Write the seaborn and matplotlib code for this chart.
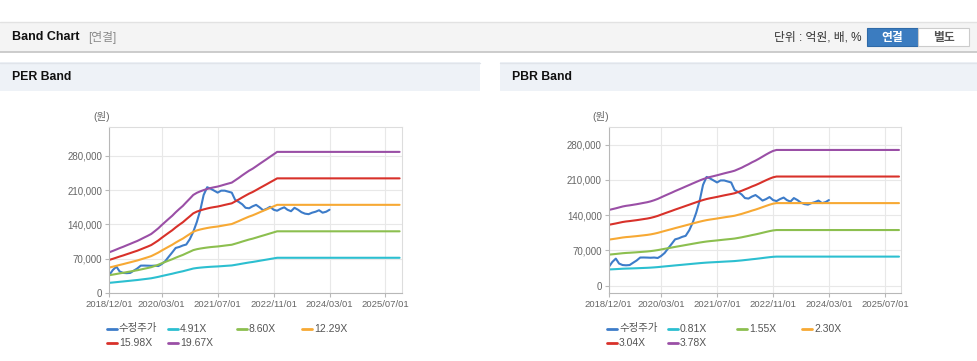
"""
PER / PBR band chart (monthly values read off the reference picture)
"""

import pandas as pd
import matplotlib.pyplot as plt
import matplotlib.ticker as mticker
import matplotlib.dates as mdates
from matplotlib.patches import Rectangle
from matplotlib.lines import Line2D
import seaborn as sns

# --- data -----------------------------------------------------------------
start_month = "2018-12-01"

# adjusted close (수정주가), monthly 2018/12 .. 2024/03
price = [36800, 47000, 53800, 44000, 41000, 40500, 41000, 45500, 50000, 55900,
         56000, 55800, 55500, 55900, 55000, 59000, 65000, 74000, 83000, 92000,
         94000, 97000, 99000, 110000, 125000, 145000, 170000, 200000, 216000, 213000,
         209000, 205000, 209000, 209000, 207000, 205000, 190000, 186000, 181000, 174000,
         173000, 177000, 180000, 175000, 169000, 172000, 176000, 170000, 168000, 172000,
         175000, 170000, 167000, 174000, 170000, 165000, 162000, 161000, 164000, 166000,
         169000, 164000, 166000, 170000]

# EPS behind the PER bands, monthly 2018/12 .. 2025/11
eps = [4230, 4370, 4520, 4660, 4800, 4950, 5100, 5250, 5400, 5580, 5760, 5940,
       6130, 6420, 6720, 7050, 7380, 7700, 8020, 8380, 8720, 9040, 9420, 9800,
       10180, 10400, 10560, 10680, 10800, 10900, 10980, 11050, 11150, 11260, 11360, 11460,
       11700, 11950, 12220, 12450, 12700, 12900, 13150, 13400, 13650, 13900, 14150, 14400,
       14650, 14650, 14650, 14650, 14650, 14650, 14650, 14650, 14650, 14650, 14650, 14650,
       14650, 14650, 14650, 14650, 14650, 14650, 14650, 14650, 14650, 14650, 14650, 14650,
       14650, 14650, 14650, 14650, 14650, 14650, 14650, 14650, 14650, 14650, 14650, 14650]

# BPS behind the PBR bands, monthly 2018/12 .. 2025/11
bps = [39760, 40200, 40650, 41100, 41600, 41950, 42200, 42500, 42800, 43150, 43500, 43850,
       44300, 44900, 45600, 46400, 47250, 48050, 48860, 49700, 50500, 51300, 52100, 52900,
       53700, 54500, 55300, 55950, 56600, 57100, 57550, 58000, 58500, 59000, 59450, 59900,
       60400, 61200, 62000, 62880, 63800, 64800, 65700, 66700, 67800, 68900, 69900, 70800,
       71300, 71300, 71300, 71300, 71300, 71300, 71300, 71300, 71300, 71300, 71300, 71300,
       71300, 71300, 71300, 71300, 71300, 71300, 71300, 71300, 71300, 71300, 71300, 71300,
       71300, 71300, 71300, 71300, 71300, 71300, 71300, 71300, 71300, 71300, 71300, 71300]

per_multiples = [4.91, 8.60, 12.29, 15.98, 19.67]
pbr_multiples = [0.81, 1.55, 2.30, 3.04, 3.78]
price_label = "수정주가"

x_ticks = ["2018/12/01", "2020/03/01", "2021/07/01", "2022/11/01", "2024/03/01", "2025/07/01"]
y_ticks = [0, 70000, 140000, 210000, 280000]

colors = ["#3d7cc9", "#2cbfd0", "#8cbf4f", "#f7a934", "#d8312a", "#9a4fa6"]

# --- frames ---------------------------------------------------------------
band_dates = pd.date_range(start_month, periods=len(eps), freq="MS")
price_df = pd.DataFrame({"date": band_dates[:len(price)], "value": price})


def band_frame(base, multiples):
    rows = []
    for m in multiples:
        label = f"{m:.2f}X"
        for d, b in zip(band_dates, base):
            rows.append({"date": d, "value": b * m, "band": label})
    return pd.DataFrame(rows)


per_df = band_frame(eps, per_multiples)
pbr_df = band_frame(bps, pbr_multiples)

# --- figure ---------------------------------------------------------------
sns.set_theme(style="white")
plt.rcParams["font.family"] = ["Liberation Sans", "Noto Sans CJK KR", "DejaVu Sans"]

W, H = 978, 361
fig = plt.figure(figsize=(W / 100, H / 100), dpi=100)
fig.patch.set_facecolor("white")


def px(x, y):
    return x / W, 1 - y / H


def rect(x0, y0, x1, y1, **kw):
    fig.add_artist(Rectangle(px(x0, y1), (x1 - x0) / W, (y1 - y0) / H,
                             transform=fig.transFigure, **kw))


def hline(x0, x1, y, color, lw=1.0):
    fig.add_artist(Line2D([x0 / W, x1 / W], [1 - y / H] * 2, color=color, lw=lw,
                          transform=fig.transFigure))


# top header bar
rect(0, 22, W, 52, facecolor="#f4f4f4", edgecolor="none")
hline(0, W, 22, "#e2e2e2")
hline(0, W, 52, "#c4c4c4", lw=1.2)
fig.text(*px(12, 37.5), "Band Chart", fontsize=9, fontweight="bold", color="#111111", va="center")
fig.text(*px(88, 37.5), "[연결]", fontsize=8.5, color="#8a8a8a", va="center")
fig.text(*px(862, 37.5), "단위 : 억원, 배, %", fontsize=8.5, color="#333333", va="center", ha="right")
rect(867, 28, 918, 46, facecolor="#3b7cc0", edgecolor="#2f6aa8", lw=0.8)
fig.text(*px(892.5, 37.5), "연결", fontsize=8.5, fontweight="bold", color="white", va="center", ha="center")
rect(918, 28, 969, 46, facecolor="white", edgecolor="#cccccc", lw=0.8)
fig.text(*px(943.5, 37.5), "별도", fontsize=8.5, fontweight="bold", color="#555555", va="center", ha="center")

# panel headers
for x0, x1, title in [(0, 480, "PER Band"), (500, W, "PBR Band")]:
    rect(x0, 62, x1, 91, facecolor="#eef2f7", edgecolor="none")
    hline(x0, x1, 62.5, "#e0e4ea")
    fig.text(*px(x0 + 12, 77), title, fontsize=8.8, fontweight="bold", color="#111111", va="center")


def draw_panel(left_px, top_px, bottom_px, ylim, band_df, band_labels):
    l, b = px(left_px, bottom_px)
    ax = fig.add_axes([l, b, 292.7 / W, (bottom_px - top_px) / H])
    sns.lineplot(data=price_df, x="date", y="value", color=colors[0], lw=1.5, ax=ax, legend=False)
    sns.lineplot(data=band_df, x="date", y="value", hue="band", hue_order=band_labels,
                 palette=colors[1:], lw=1.5, ax=ax, legend=False)
    ax.set_xlim(pd.Timestamp("2018-12-01"), pd.Timestamp("2025-11-22"))
    ax.set_ylim(*ylim)
    ax.set_xticks([pd.Timestamp(t.replace("/", "-")) for t in x_ticks])
    ax.xaxis.set_major_formatter(mdates.DateFormatter("%Y/%m/%d"))
    ax.set_yticks(y_ticks)
    ax.yaxis.set_major_formatter(mticker.FuncFormatter(lambda v, p: f"{int(v):,}"))
    ax.set_xlabel("")
    ax.set_ylabel("")
    ax.grid(True, color="#e8e8e8", lw=0.8)
    ax.set_axisbelow(True)
    for side in ["top", "right"]:
        ax.spines[side].set_color("#dddddd")
        ax.spines[side].set_linewidth(0.8)
    for side in ["left", "bottom"]:
        ax.spines[side].set_color("#b8b8b8")
        ax.spines[side].set_linewidth(0.8)
    ax.tick_params(axis="both", length=3, width=0.8, color="#b8b8b8", labelsize=6.8,
                   labelcolor="#666666", pad=2, left=True, bottom=True)
    ax.tick_params(axis="y", labelsize=7)
    fig.text(*px(left_px - 16, 116), "(원)", fontsize=7.5, color="#666666", ha="left", va="center")
    return ax


per_labels = [f"{m:.2f}X" for m in per_multiples]
pbr_labels = [f"{m:.2f}X" for m in pbr_multiples]

draw_panel(109.3, 127, 293, (0, 339000), per_df, per_labels)
draw_panel(608.7, 126.7, 293, (-14500, 315700), pbr_df, pbr_labels)


# manual legends (two rows, four columns)
def draw_legend(x0, labels):
    cols = [0, 61, 130, 195]
    entries = [price_label] + labels
    for i, (lab, c) in enumerate(zip(entries, colors)):
        row, col = divmod(i, 4)
        x = x0 + cols[col]
        y = 328.5 + row * 14
        fig.add_artist(Line2D([x / W, (x + 10) / W], [1 - y / H] * 2, color=c, lw=2,
                              transform=fig.transFigure))
        fig.text(*px(x + 12, y), lab, fontsize=7.5, color="#555555", va="center")


draw_legend(107, per_labels)
draw_legend(607, pbr_labels)

plt.savefig("out.png", dpi=100)
